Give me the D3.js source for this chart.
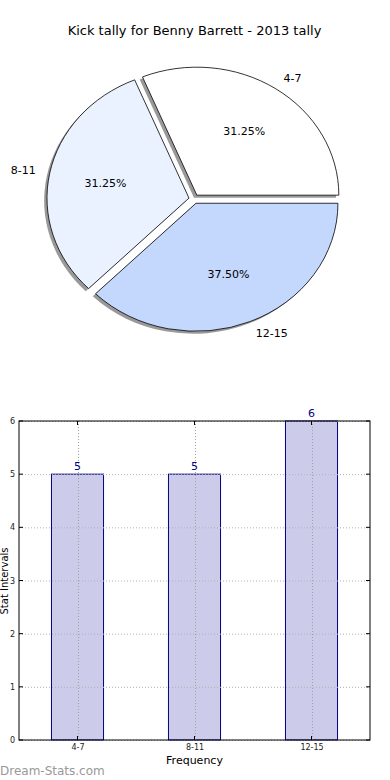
<!DOCTYPE html>
<html><head><meta charset="utf-8">
<script src="https://cdn.jsdelivr.net/npm/d3@7/dist/d3.min.js"></script>
<style>body{margin:0;background:#fff}svg{display:block;font-family:"DejaVu Sans",sans-serif}</style>
</head><body>
<script>
const title = "Kick tally for Benny Barrett - 2013 tally";
const categories = ["4-7", "8-11", "12-15"];
const values = [5, 5, 6];
const pieColors = ["#ffffff", "#ebf2ff", "#c4d7fd"];
const yTicks = [0, 1, 2, 3, 4, 5, 6];
const xLabel = "Frequency";
const yLabel = "Stat Intervals";
const watermark = "Dream-Stats.com";

const W = 390, H = 780;
const svg = d3.select("body").append("svg").attr("width", W).attr("height", H);

svg.append("text").attr("x", 194.5).attr("y", 35).attr("text-anchor", "middle")
  .attr("font-size", 13).attr("fill", "#000").text(title);

// ---- Pie (matplotlib style: start at 3 o'clock, counterclockwise, elliptical)
const cx = 194, cy = 199, rx = 142, ry = 128, explode = 0.036;
const sy = ry / rx;
const pie = d3.pie().sort(null).startAngle(Math.PI / 2).endAngle(Math.PI / 2 - 2 * Math.PI);
const arcs = pie(values);
const arc = d3.arc().innerRadius(0).outerRadius(rx);
const total = d3.sum(values);

const pg = svg.append("g").attr("transform", `translate(${cx},${cy}) scale(1,${sy})`);
// shadows
arcs.forEach((a, i) => {
  const m = (a.startAngle + a.endAngle) / 2;
  const ox = explode * rx * Math.sin(m), oy = -explode * rx * Math.cos(m);
  pg.append("path").attr("d", arc(a))
    .attr("transform", `translate(${ox - 0.02 * rx},${oy + 0.02 * rx})`)
    .attr("fill", "#000").attr("fill-opacity", 0.4);
});
arcs.forEach((a, i) => {
  const m = (a.startAngle + a.endAngle) / 2;
  const ox = explode * rx * Math.sin(m), oy = -explode * rx * Math.cos(m);
  pg.append("path").attr("d", arc(a))
    .attr("transform", `translate(${ox},${oy})`)
    .attr("fill", pieColors[i]).attr("stroke", "#000").attr("stroke-width", 0.8)
    .attr("vector-effect", "non-scaling-stroke").attr("stroke-linejoin", "miter");
});
// labels
arcs.forEach((a, i) => {
  const m = (a.startAngle + a.endAngle) / 2;
  const s = Math.sin(m), c = Math.cos(m);
  const ex = explode * rx * s, ey = -explode * ry * c;
  const lx = cx + ex + 1.1 * rx * s, ly = cy + ey - 1.1 * ry * c;
  svg.append("text").attr("x", lx).attr("y", ly).attr("dy", "0.35em")
    .attr("text-anchor", s >= 0 ? "start" : "end")
    .attr("font-size", 11).text(categories[i]);
  const px = cx + ex + 0.6 * rx * s, py = cy + ey - 0.6 * ry * c;
  svg.append("text").attr("x", px).attr("y", py).attr("dy", "0.35em")
    .attr("text-anchor", "middle").attr("font-size", 11)
    .text((values[i] / total * 100).toFixed(2) + "%");
});

// ---- Bar chart
const L = 19, R = 370, T = 421, B = 740;
const x = d3.scaleLinear().domain([-0.5, categories.length - 0.5]).range([L, R]);
const y = d3.scaleLinear().domain([0, 6]).range([B, T]);
const bw = 0.445;
const bg = svg.append("g");

bg.selectAll("rect.bar").data(values).join("rect").attr("class", "bar")
  .attr("x", (d, i) => x(i - bw / 2)).attr("width", x(bw) - x(0))
  .attr("y", d => y(d)).attr("height", d => y(0) - y(d))
  .attr("fill", "#ccccea").attr("stroke", "#000080").attr("stroke-width", 1);

// grid
bg.selectAll("line.gy").data(yTicks).join("line")
  .attr("x1", L).attr("x2", R).attr("y1", d => y(d) + 0.5).attr("y2", d => y(d) + 0.5)
  .attr("stroke", "#b0b0b0").attr("stroke-width", 1).attr("stroke-dasharray", "1,2");
bg.selectAll("line.gx").data(categories).join("line")
  .attr("x1", (d, i) => Math.round(x(i)) + 0.5).attr("x2", (d, i) => Math.round(x(i)) + 0.5)
  .attr("y1", T).attr("y2", B)
  .attr("stroke", "#a0a0a0").attr("stroke-width", 1).attr("stroke-dasharray", "1,2");

// axes frame
bg.append("rect").attr("x", L).attr("y", T).attr("width", R - L).attr("height", B - T)
  .attr("fill", "none").attr("stroke", "#000").attr("stroke-width", 1);

// y ticks
const yAxis = d3.axisLeft(y).tickValues(yTicks).tickSize(0).tickPadding(4).tickFormat(d3.format("d"));
const ya = bg.append("g").attr("transform", `translate(${L},0)`).call(yAxis);
ya.select(".domain").remove();
ya.selectAll("text").attr("font-size", 8).attr("font-family", "DejaVu Sans").attr("fill", "#222");
yTicks.forEach(t => {
  bg.append("line").attr("x1", L).attr("x2", L + 4).attr("y1", y(t)).attr("y2", y(t)).attr("stroke", "#000");
  bg.append("line").attr("x1", R - 4).attr("x2", R).attr("y1", y(t)).attr("y2", y(t)).attr("stroke", "#000");
});
// x ticks
const xAxis = d3.axisBottom(x).tickValues(d3.range(categories.length)).tickSize(0).tickPadding(4)
  .tickFormat(i => categories[i]);
const xa = bg.append("g").attr("transform", `translate(0,${B})`).call(xAxis);
xa.select(".domain").remove();
xa.selectAll("text").attr("font-size", 8).attr("font-family", "DejaVu Sans").attr("fill", "#222");
categories.forEach((c, i) => {
  bg.append("line").attr("x1", x(i)).attr("x2", x(i)).attr("y1", B - 4).attr("y2", B).attr("stroke", "#000");
  bg.append("line").attr("x1", x(i)).attr("x2", x(i)).attr("y1", T).attr("y2", T + 4).attr("stroke", "#000");
});

// value labels
bg.selectAll("text.val").data(values).join("text").attr("class", "val")
  .attr("x", (d, i) => x(i)).attr("y", d => y(d) - 4)
  .attr("text-anchor", "middle").attr("font-size", 11).attr("fill", "#00008b").text(d => d);

// axis labels
svg.append("text").attr("x", 194.5).attr("y", 764).attr("text-anchor", "middle")
  .attr("font-size", 11).text(xLabel);
svg.append("text").attr("transform", `translate(7.5,581) rotate(-90)`).attr("text-anchor", "middle")
  .attr("font-size", 10).text(yLabel);

svg.append("text").attr("x", 0).attr("y", 775).attr("font-size", 12)
  .attr("fill", "#999").text(watermark);
</script>
</body></html>
